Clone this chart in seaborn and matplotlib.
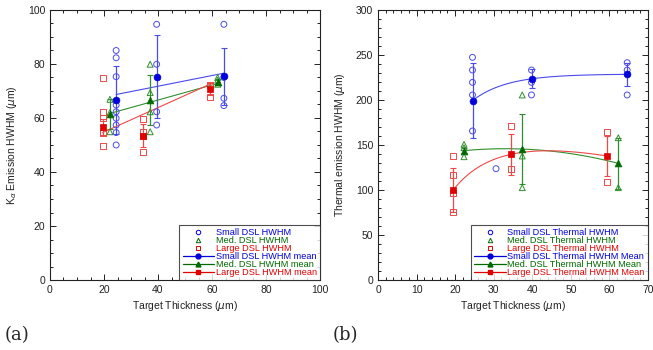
import numpy as np
import pandas as pd
import matplotlib
matplotlib.use("Agg")
import matplotlib.pyplot as plt
from matplotlib.lines import Line2D
from matplotlib.ticker import MultipleLocator
import seaborn as sns

# ------------------------------------------------------------
# data
# ------------------------------------------------------------
# (a) K-alpha emission HWHM
a_small_x = [24.5, 39.5, 64.4]
a_small_pts = [[85, 82.3, 75.3, 64.8, 62.3, 59.9, 57.4, 54.6, 50.0],
               [94.7, 79.9, 62.3, 57.4],
               [94.7, 75.0, 67.3, 64.6]]
a_small_mean = [66.6, 75.3, 75.4]
a_small_err = [12.5, 15.4, 10.5]

a_med_x = [22.2, 37.1, 62.1]
a_med_pts = [[66.9, 62.0, 54.9],
             [79.9, 69.4, 62.3, 54.9],
             [75.0, 74.0, 72.5]]
a_med_mean = [61.5, 66.7, 73.3]
a_med_err = [5.6, 9.2, 1.0]

a_large_x = [19.5, 34.4, 59.4]
a_large_pts = [[74.7, 62.3, 59.9, 54.6, 49.6],
               [59.5, 54.9, 53.3, 47.5],
               [72.2, 67.9]]
a_large_mean = [56.8, 53.5, 70.6]
a_large_err = [3.0, 4.4, 2.2]

# fitted lines as drawn in the figure (value at first and last thickness)
a_small_fit = [68.7, 76.6]
a_med_fit = [61.7, 72.8]
a_large_fit = [54.6, 72.6]

# (b) thermal emission HWHM
b_small_x = [24.5, 39.8, 64.6]
b_small_pts = [[247.4, 233.3, 219.6, 205.6, 165.6],
               [233.3, 219.6, 205.6],
               [241.5, 233.3, 205.6]]
b_small_extra = (30.6, 123.7)
b_small_mean = [199.3, 223.5, 228.5]
b_small_err = [42.0, 10.5, 13.0]

b_med_x = [22.3, 37.4, 62.3]
b_med_pts = [[150.7, 147.0, 137.0],
             [205.6, 137.8, 102.6],
             [158.1, 102.6]]
b_med_mean = [143.7, 145.5, 129.6]
b_med_err = [3.0, 39.0, 28.0]

b_large_x = [19.5, 34.5, 59.4]
b_large_pts = [[137.8, 117.0, 96.3, 75.6],
               [171.5, 123.3],
               [164.8, 109.3]]
b_large_mean = [100.0, 139.6, 137.8]
b_large_err = [24.0, 23.0, 22.0]

C_BLUE, C_BLUE_L = "#0000dd", "#4a4aee"
C_GREEN, C_GREEN_L = "#006a00", "#2f8f2f"
C_RED, C_RED_L = "#e00000", "#f04848"


def points_frame(xs, pts):
    rows = []
    for x, ys in zip(xs, pts):
        for y in ys:
            rows.append((x, y))
    return pd.DataFrame(rows, columns=["x", "y"])


def draw_series(ax, xs, pts, mean, err, marker, c_dark, c_light, fit_x=None, fit_y=None):
    df = points_frame(xs, pts)
    sns.scatterplot(data=df, x="x", y="y", ax=ax, marker=marker, s=18,
                    facecolor="none", edgecolor=c_light, linewidth=0.7, legend=False, zorder=3)
    ax.errorbar(xs, mean, yerr=err, fmt="none", ecolor=c_light, elinewidth=0.9,
                capsize=2, capthick=0.8, zorder=2)
    if fit_x is not None:
        ax.plot(fit_x, fit_y, color=c_light, lw=0.8, zorder=2)
    sns.scatterplot(x=xs, y=mean, ax=ax, marker=marker, s=24, color=c_dark,
                    edgecolor=c_dark, linewidth=0.5, legend=False, zorder=4)


def style_axis(ax, xmax, xmaj, xmin, ymax, ymaj, ymin):
    ax.set_xlim(0, xmax)
    ax.set_ylim(0, ymax)
    ax.xaxis.set_major_locator(MultipleLocator(xmaj))
    ax.xaxis.set_minor_locator(MultipleLocator(xmin))
    ax.yaxis.set_major_locator(MultipleLocator(ymaj))
    ax.yaxis.set_minor_locator(MultipleLocator(ymin))
    ax.tick_params(which="both", direction="in", top=True, right=True, bottom=True, left=True,
                   labelsize=7.5, width=0.7, colors="#222222")
    ax.tick_params(which="major", length=4)
    ax.tick_params(which="minor", length=2)
    for sp in ax.spines.values():
        sp.set_linewidth(0.8)
        sp.set_color("#222222")
        sp.set_visible(True)
    ax.set_xlabel(r"Target Thickness ($\mu$m)", fontsize=7.5, color="#222222", labelpad=3)


def add_legend(ax, labels):
    colors = [C_BLUE, C_GREEN, C_RED]
    markers = ["o", "^", "s"]
    handles = []
    for c, m in zip(colors, markers):
        handles.append(Line2D([], [], ls="none", marker=m, ms=3.2, mfc="none", mec=c, mew=0.7))
    for c, m in zip(colors, markers):
        handles.append(Line2D([], [], color=c, lw=0.9, marker=m, ms=3.5, mfc=c, mec=c))
    leg = ax.legend(handles, labels, loc="lower right", fontsize=6.6, frameon=True,
                    fancybox=False, borderaxespad=0, labelspacing=-0.12, handlelength=3.4,
                    handletextpad=0.2, borderpad=0.35)
    leg.get_frame().set_edgecolor("#222222")
    leg.get_frame().set_linewidth(0.8)
    for t, c in zip(leg.get_texts(), colors * 2):
        t.set_color(c)


sns.set_style("white")
plt.rcParams["font.family"] = ["Liberation Sans", "DejaVu Sans"]
plt.rcParams["mathtext.fontset"] = "dejavusans"

fig = plt.figure(figsize=(6.53, 3.5), dpi=100)
ax1 = fig.add_axes([50 / 653, 0.2, 270 / 653, 270 / 350])
ax2 = fig.add_axes([378 / 653, 0.2, 270 / 653, 270 / 350])

# ---- (a)
draw_series(ax1, a_small_x, a_small_pts, a_small_mean, a_small_err, "o", C_BLUE, C_BLUE_L,
            [a_small_x[0], a_small_x[-1]], a_small_fit)
draw_series(ax1, a_med_x, a_med_pts, a_med_mean, a_med_err, "^", C_GREEN, C_GREEN_L,
            [a_med_x[0], a_med_x[-1]], a_med_fit)
draw_series(ax1, a_large_x, a_large_pts, a_large_mean, a_large_err, "s", C_RED, C_RED_L,
            [a_large_x[0], a_large_x[-1]], a_large_fit)
style_axis(ax1, 100, 20, 5, 100, 20, 5)
ax1.set_ylabel(r"K$_\alpha$ Emission HWHM ($\mu$m)", fontsize=7.5, color="#222222", labelpad=6)
add_legend(ax1, ["Small DSL HWHM", "Med. DSL HWHM", "Large DSL HWHM",
                 "Small DSL HWHM mean", "Med. DSL HWHM mean", "Large DSL HWHM mean"])


# ---- (b) curve fits through the means
def sat_fit(xs, ys):
    # y = a - b*exp(-k x), solved exactly through three points
    xs = np.asarray(xs, float)
    ys = np.asarray(ys, float)
    target = (ys[1] - ys[0]) / (ys[2] - ys[1])
    lo, hi = 1e-4, 1.0
    for _ in range(100):
        k = 0.5 * (lo + hi)
        e = np.exp(-k * xs)
        r = (e[0] - e[1]) / (e[1] - e[2])
        if r < target:
            lo = k
        else:
            hi = k
    e = np.exp(-k * xs)
    b = (ys[1] - ys[0]) / (e[0] - e[1])
    a = ys[0] + b * e[0]
    return lambda x: a - b * np.exp(-k * x)


f_small = sat_fit(b_small_x, b_small_mean)
f_med = np.poly1d(np.polyfit(b_med_x, b_med_mean, 2))
p_large = np.poly1d(np.polyfit(np.log(b_large_x), b_large_mean, 2))

xx_s = np.linspace(b_small_x[0], b_small_x[-1], 100)
xx_m = np.linspace(b_med_x[0], b_med_x[-1], 100)
xx_l = np.linspace(b_large_x[0], b_large_x[-1], 100)

draw_series(ax2, b_small_x, b_small_pts, b_small_mean, b_small_err, "o", C_BLUE, C_BLUE_L,
            xx_s, f_small(xx_s))
ax2.scatter([b_small_extra[0]], [b_small_extra[1]], marker="o", s=18, facecolor="none",
            edgecolor=C_BLUE_L, linewidth=0.7, zorder=3)
draw_series(ax2, b_med_x, b_med_pts, b_med_mean, b_med_err, "^", C_GREEN, C_GREEN_L,
            xx_m, f_med(xx_m))
draw_series(ax2, b_large_x, b_large_pts, b_large_mean, b_large_err, "s", C_RED, C_RED_L,
            xx_l, p_large(np.log(xx_l)))
style_axis(ax2, 70, 10, 2, 300, 50, 10)
ax2.set_ylabel(r"Thermal emission HWHM ($\mu$m)", fontsize=7.5, color="#222222", labelpad=6)
add_legend(ax2, ["Small DSL Thermal HWHM", "Med. DSL Thermal HWHM", "Large DSL Thermal HWHM",
                 "Small DSL Thermal HWHM Mean", "Med. DSL Thermal HWHM Mean",
                 "Large DSL Thermal HWHM Mean"])

fig.text(5 / 653, 1 - 335 / 350, "(a)", family="DejaVu Serif", fontsize=13, va="center")
fig.text(333 / 653, 1 - 335 / 350, "(b)", family="DejaVu Serif", fontsize=13, va="center")

fig.savefig("out.png", dpi=100, facecolor="white")
